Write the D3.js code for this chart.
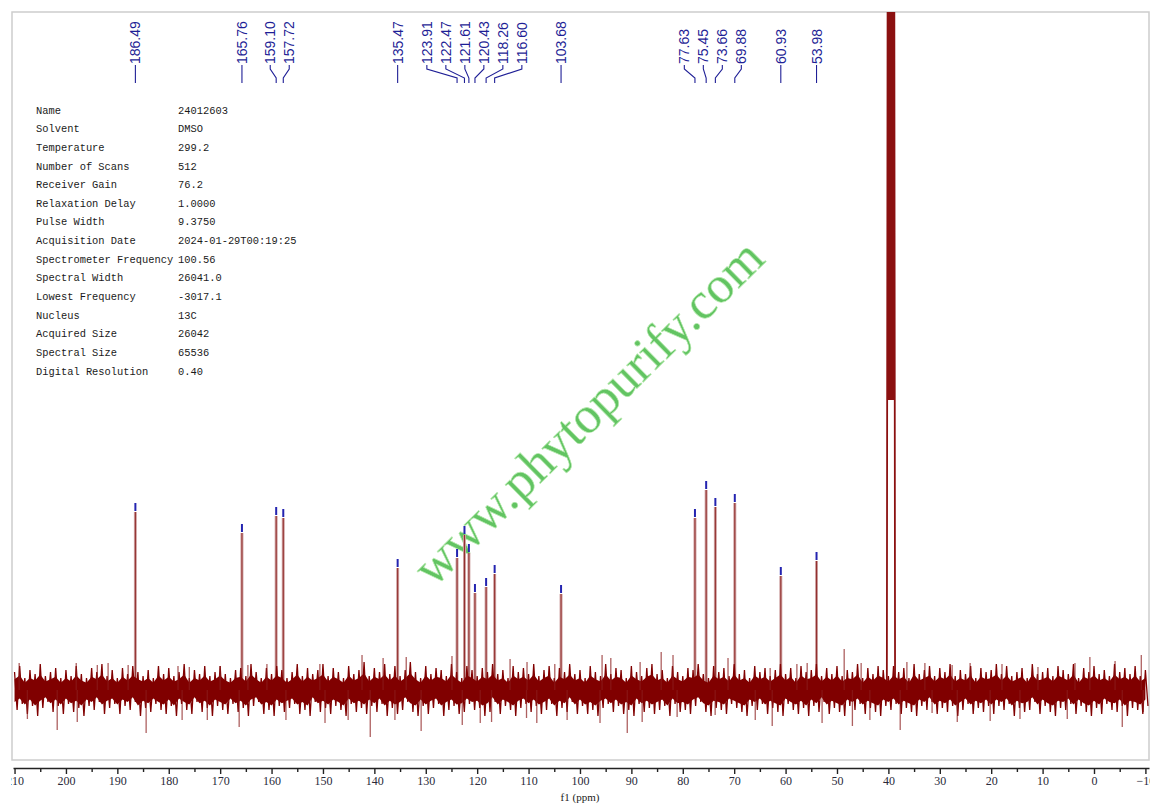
<!DOCTYPE html>
<html>
<head>
<meta charset="utf-8">
<script src="https://cdn.jsdelivr.net/npm/d3@7"></script>
<style>
  body { margin: 0; background: #fff; }
  svg { display: block; }
</style>
</head>
<body>
<svg id="chart" width="1165" height="807"></svg>
<script>
// 13C spectrum, values (height in arbitrary units, baseline = 0)
var peakPpm = [186.49, 165.76, 159.10, 157.72, 135.47, 123.91, 122.47, 121.61, 120.43, 118.26, 116.60, 103.68, 77.63, 75.45, 73.66, 69.88, 60.93, 53.98];
var peakHeight = [89, 78.5, 87, 86, 61, 66, 77.5, 68.5, 48.5, 51.5, 58, 48, 86, 100, 91.5, 93.5, 57, 64.5];

// DMSO-d6 septet, runs off the top of the plot
var solventPpm = [40.13, 39.92, 39.71, 39.50, 39.29, 39.08, 38.87];
var solventHeight = [900, 2000, 3000, 3500, 3000, 2000, 900];
var solventValley = 145;

// noise extremes, one pair per ppm from 210 down to -10
var noiseFrom = 210;
var noiseHi = [
  9,12,6,10,8,13,7,9,11,6,
  10,7,12,8,6,11,9,13,7,10,
  6,11,8,12,9,7,10,6,12,8,
  11,7,9,13,6,10,8,12,7,9,
  12,8,6,10,11,7,13,9,6,11,
  8,12,10,6,9,13,7,11,8,10,
  13,7,11,9,6,12,8,10,14,7,
  11,9,13,8,12,7,10,14,9,6,
  12,8,11,10,7,13,9,6,12,10,
  7,11,9,13,8,10,6,12,9,11,
  8,13,7,10,12,6,11,9,13,8,
  10,6,12,9,7,13,8,11,10,6,
  12,9,7,11,13,8,10,6,12,9,
  7,11,10,13,8,6,12,9,11,7,
  13,8,10,6,12,9,11,7,10,13,
  8,11,6,12,9,10,13,7,11,8,
  12,7,10,9,13,6,11,8,12,10,
  7,12,9,11,6,13,8,10,12,7,
  11,9,13,7,10,8,12,6,11,9,
  10,13,8,12,7,9,11,6,13,8,
  9,11,7,12,10,8,13,6,11,9,
  12,8,10,7,13,9,11,8,12,7,10
];
var noiseLo = [
  -10,-7,-12,-8,-13,-9,-6,-11,-8,-12,
  -7,-11,-9,-13,-8,-10,-6,-12,-9,-7,
  -12,-8,-10,-6,-13,-9,-11,-7,-10,-12,
  -8,-13,-7,-10,-12,-6,-11,-9,-13,-8,
  -10,-12,-7,-11,-9,-13,-8,-6,-12,-10,
  -13,-8,-11,-9,-7,-12,-10,-13,-6,-11,
  -9,-12,-8,-10,-13,-7,-11,-9,-12,-8,
  -11,-7,-13,-9,-12,-10,-6,-11,-13,-8,
  -12,-9,-7,-13,-10,-8,-12,-11,-7,-10,
  -9,-13,-11,-6,-12,-8,-10,-13,-9,-7,
  -11,-8,-12,-10,-7,-13,-9,-11,-6,-12,
  -8,-12,-10,-13,-9,-7,-11,-8,-12,-10,
  -13,-7,-11,-9,-12,-10,-8,-13,-7,-11,
  -10,-12,-8,-6,-11,-13,-9,-10,-12,-7,
  -9,-11,-13,-8,-10,-7,-12,-9,-11,-13,
  -7,-10,-12,-9,-13,-8,-11,-6,-12,-9,
  -11,-13,-8,-10,-7,-12,-9,-11,-13,-8,
  -10,-7,-12,-9,-11,-13,-8,-10,-6,-12,
  -9,-11,-8,-13,-10,-7,-12,-9,-11,-8,
  -12,-8,-10,-7,-13,-9,-11,-10,-6,-12,
  -8,-11,-13,-9,-10,-7,-12,-8,-11,-13,
  -9,-12,-7,-10,-11,-8,-13,-9,-10,-12,-8
];

// single noise spikes sticking out of the band
var spikePpm = [209.1, 198.0, 193.9, 191.8, 187.9, 178.2, 176.0, 170.0, 164.6, 160.9, 150.6, 142.4, 138.3, 133.8, 124.9, 113.6, 110.3, 104.9, 95.7, 94.0, 88.3, 84.2, 81.9, 71.2, 63.0, 57.8, 55.8, 48.6, 45.3, 36.4, 32.9, 27.6, 24.1, 17.9, 10.9, 3.7, 0.8, -4.1, -9.2,
  207.5, 201.7, 197.8, 184.4, 177.4, 172.5, 166.3, 157.2, 149.6, 145.1, 140.8, 136.0, 130.9, 122.9, 119.4, 117.2, 110.4, 108.4, 102.5, 96.1, 90.8, 87.9, 81.1, 73.7, 65.9, 62.6, 52.9, 47.0, 43.6, 37.7, 31.5, 26.6, 20.2, 14.4, 5.2, -5.5, -9.6];
var spikeValue = [13.5, 13.5, 12.5, 13.5, 12.5, 12, 11.5, 12, 12.5, 13, 13, 17.5, 16, 16.5, 17, 15.5, 14, 13, 17.5, 16, 14, 19, 17.5, 16, 11, 13, 13.5, 20.5, 13.5, 14, 13.5, 12.5, 13.5, 13, 11.5, 13.5, 16.5, 14.5, 17.5,
  -14.5, -20, -16, -21.5, -15, -15, -18.5, -15, -16.5, -15, -23.5, -15, -20.5, -17.5, -16.5, -16, -14, -16.5, -15, -16.5, -21.5, -16, -13.5, -12.5, -15, -18, -16.5, -18, -15, -20, -11.5, -16, -15.5, -14.5, -14.5, -18.5, -11];

var majorTicks = [210, 200, 190, 180, 170, 160, 150, 140, 130, 120, 110, 100, 90, 80, 70, 60, 50, 40, 30, 20, 10, 0, -10];
var minorTicks = [205, 195, 185, 175, 165, 155, 145, 135, 125, 115, 105, 95, 85, 75, 65, 55, 45, 35, 25, 15, 5, -5];

var paramNames = ["Name", "Solvent", "Temperature", "Number of Scans", "Receiver Gain", "Relaxation Delay", "Pulse Width", "Acquisition Date", "Spectrometer Frequency", "Spectral Width", "Lowest Frequency", "Nucleus", "Acquired Size", "Spectral Size", "Digital Resolution"];
var paramValues = ["24012603", "DMSO", "299.2", "512", "76.2", "1.0000", "9.3750", "2024-01-29T00:19:25", "100.56", "26041.0", "-3017.1", "13C", "26042", "65536", "0.40"];

var watermark = "www.phytopurify.com";

var svg = d3.select("#chart");
var H = 807;
var plotL = 12, plotR = 1149, plotT = 12, plotB = 760;

var x = d3.scaleLinear().domain([210.3, -10.7]).range([13, 1149]);
var y = d3.scaleLinear().domain([-35, 339]).range([plotB, plotT]);

var blue = "#1f1f96";
var dark = "#800000";

var defs = svg.append("defs");
defs.append("clipPath").attr("id", "plotClip")
  .append("rect").attr("x", plotL).attr("y", plotT).attr("width", plotR - plotL).attr("height", plotB - plotT);
defs.append("clipPath").attr("id", "axisClip")
  .append("rect").attr("x", plotL - 1).attr("y", plotB).attr("width", plotR - plotL + 2).attr("height", H - plotB);

// frame
svg.append("rect")
  .attr("x", plotL).attr("y", plotT).attr("width", plotR - plotL).attr("height", plotB - plotT)
  .attr("fill", "none").attr("stroke", "#cdcdcd").attr("stroke-width", 1.5);

// watermark sits under the spectrum
svg.append("text")
  .attr("transform", "translate(588,412) rotate(-44.5)")
  .attr("text-anchor", "middle")
  .attr("dominant-baseline", "central")
  .attr("font-family", "'Liberation Serif', 'DejaVu Serif', serif")
  .attr("font-size", 52)
  .attr("fill", "#62c462")
  .attr("stroke", "#b8eab0")
  .attr("stroke-width", 0.6)
  .text(watermark);

// acquisition parameters
var params = svg.append("g")
  .attr("font-family", "'Liberation Mono', 'DejaVu Sans Mono', monospace")
  .attr("font-size", 10.4)
  .attr("fill", "#1a1a1a");
paramNames.forEach(function(name, i) {
  var ty = 110 + i * 18.64;
  params.append("text").attr("x", 36).attr("y", ty).attr("dy", "0.35em").text(name);
  params.append("text").attr("x", 178).attr("y", ty).attr("dy", "0.35em").text(paramValues[i]);
});

var plot = svg.append("g").attr("clip-path", "url(#plotClip)");

// peaks first, the noise trace covers their feet
var peaks = plot.append("g");
peaks.selectAll("line.halo")
  .data(peakPpm)
  .join("line")
  .attr("class", "halo")
  .attr("x1", function(d) { return x(d); })
  .attr("x2", function(d) { return x(d); })
  .attr("y1", y(0))
  .attr("y2", function(d, i) { return y(peakHeight[i]); })
  .attr("stroke", "#cfa3a3")
  .attr("stroke-width", 3);
peaks.selectAll("line.core")
  .data(peakPpm)
  .join("line")
  .attr("class", "core")
  .attr("x1", function(d) { return x(d); })
  .attr("x2", function(d) { return x(d); })
  .attr("y1", y(0))
  .attr("y2", function(d, i) { return y(peakHeight[i]); })
  .attr("stroke", "#93302f")
  .attr("stroke-width", 1.1);

// solvent multiplet as a continuous trace
var solvent = [{ ppm: 40.3, v: 0 }];
solventPpm.forEach(function(p, i) {
  solvent.push({ ppm: p, v: solventHeight[i] });
  if (i < solventPpm.length - 1) solvent.push({ ppm: (p + solventPpm[i + 1]) / 2, v: solventValley });
});
solvent.push({ ppm: 38.7, v: 0 });
plot.append("path")
  .datum(solvent)
  .attr("fill", "none")
  .attr("stroke", "#8b1010")
  .attr("stroke-width", 1.8)
  .attr("d", d3.line()
    .x(function(d) { return x(d.ppm); })
    .y(function(d) { return y(Math.min(d.v, 400)); }));

// noise: a solid core plus a zigzag trace through the extremes
var noise = noiseHi.map(function(h, i) {
  return { ppm: noiseFrom - i, hi: h, lo: noiseLo[i] };
});
plot.append("path")
  .datum(noise)
  .attr("fill", dark)
  .attr("d", d3.area()
    .x(function(d) { return x(d.ppm); })
    .y0(function(d) { return y(d.lo * 0.6); })
    .y1(function(d) { return y(d.hi * 0.6); }));

var trace = [];
noise.forEach(function(d) {
  trace.push([d.ppm, d.hi]);
  trace.push([d.ppm - 0.5, d.lo]);
});
plot.append("path")
  .datum(trace)
  .attr("fill", "none")
  .attr("stroke", dark)
  .attr("stroke-width", 1.3)
  .attr("d", d3.line()
    .x(function(d) { return x(d[0]); })
    .y(function(d) { return y(d[1]); }));

plot.append("g").selectAll("line")
  .data(spikePpm)
  .join("line")
  .attr("x1", function(d) { return x(d); })
  .attr("x2", function(d) { return x(d); })
  .attr("y1", y(0))
  .attr("y2", function(d, i) { return y(spikeValue[i]); })
  .attr("stroke", "#8a1c1c")
  .attr("stroke-opacity", 0.7)
  .attr("stroke-width", 1.3);

// peak-pick markers
plot.append("g").selectAll("line")
  .data(peakPpm)
  .join("line")
  .attr("x1", function(d) { return x(d); })
  .attr("x2", function(d) { return x(d); })
  .attr("y1", function(d, i) { return y(peakHeight[i]) - 1; })
  .attr("y2", function(d, i) { return y(peakHeight[i]) - 9; })
  .attr("stroke", "#2424b0")
  .attr("stroke-width", 2);

// spread labels so they don't overlap
function spreadLabels(xs, gap) {
  var groups = xs.map(function(v) { return { n: 1, sum: v, start: v }; });
  var merged = true;
  while (merged) {
    merged = false;
    for (var i = 0; i < groups.length - 1; i++) {
      var a = groups[i], b = groups[i + 1];
      if (b.start - (a.start + (a.n - 1) * gap) < gap) {
        var n = a.n + b.n, sum = a.sum + b.sum;
        groups.splice(i, 2, { n: n, sum: sum, start: sum / n - (n - 1) * gap / 2 });
        merged = true;
        break;
      }
    }
  }
  var out = [];
  groups.forEach(function(g) {
    for (var k = 0; k < g.n; k++) out.push(g.start + k * gap);
  });
  return out;
}

var peakX = peakPpm.map(function(p) { return x(p); });
var labelX = spreadLabels(peakX, 19);
var fmt = d3.format(".2f");

var labels = svg.append("g");
peakPpm.forEach(function(p, i) {
  var lx = labelX[i], px = peakX[i];
  labels.append("text")
    .attr("transform", "translate(" + lx + ",64) rotate(-90)")
    .attr("dy", "0.36em")
    .attr("font-family", "'Liberation Sans', Arial, sans-serif")
    .attr("font-size", 14)
    .attr("fill", blue)
    .text(fmt(p));
  labels.append("path")
    .attr("d", "M" + lx + ",65V69L" + px + ",78V83")
    .attr("fill", "none")
    .attr("stroke", blue)
    .attr("stroke-width", 1.1);
});

// x axis
var axisG = svg.append("g").attr("clip-path", "url(#axisClip)");
var axis = axisG.append("g")
  .attr("transform", "translate(0,768)")
  .call(d3.axisBottom(x).tickValues(majorTicks).tickSize(6).tickSizeOuter(0).tickFormat(d3.format("d")));
axis.select(".domain").attr("stroke", "#222").attr("stroke-width", 1.4);
axis.selectAll(".tick line").attr("stroke", "#222").attr("stroke-width", 1.4);
axis.selectAll(".tick text")
  .attr("y", 8)
  .attr("font-family", "'Liberation Serif', 'DejaVu Serif', serif")
  .attr("font-size", 12)
  .attr("fill", "#2a2a3a");
var minor = axisG.append("g")
  .attr("transform", "translate(0,768)")
  .call(d3.axisBottom(x).tickValues(minorTicks).tickSize(4).tickSizeOuter(0).tickFormat(""));
minor.select(".domain").remove();
minor.selectAll(".tick line").attr("stroke", "#222").attr("stroke-width", 1.4);

svg.append("text")
  .attr("x", 580).attr("y", 797)
  .attr("dy", "0.35em")
  .attr("text-anchor", "middle")
  .attr("font-family", "'Liberation Serif', 'DejaVu Serif', serif")
  .attr("font-size", 11)
  .attr("fill", "#222")
  .text("f1 (ppm)");
</script>
</body>
</html>
